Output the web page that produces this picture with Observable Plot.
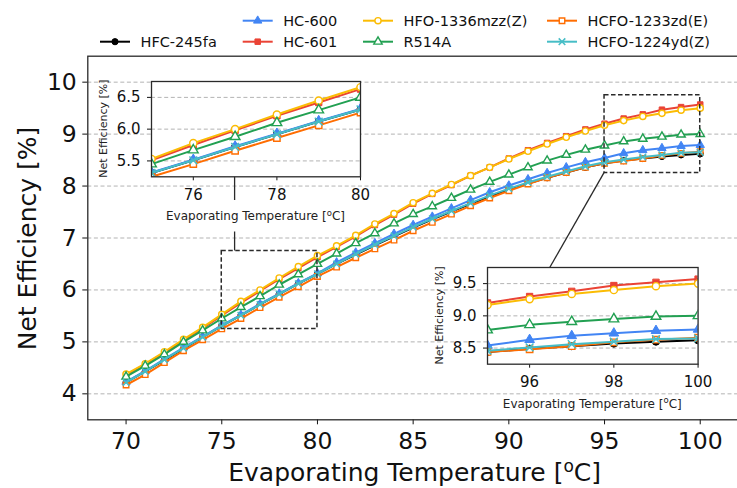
<!DOCTYPE html>
<html><head><meta charset="utf-8">
<script src="https://cdn.jsdelivr.net/npm/d3@7"></script>
<script src="https://cdn.jsdelivr.net/npm/@observablehq/plot@0.6"></script>
<style>
html,body{margin:0;padding:0;background:#fff;overflow:hidden}
#wrap{position:relative;width:737px;height:488px;overflow:hidden;background:#fff;font-family:"DejaVu Sans",sans-serif}
#wrap svg{position:absolute;display:block}
</style></head><body><div id="wrap"></div>
<script>
// ---------- data ----------
const temps = [70,71,72,73,74,75,76,77,78,79,80,81,82,83,84,85,86,87,88,89,90,91,92,93,94,95,96,97,98,99,100];
const hfc245fa = [4.22,4.43,4.65,4.87,5.09,5.31,5.51,5.72,5.92,6.12,6.31,6.50,6.68,6.86,7.03,7.20,7.36,7.51,7.66,7.80,7.93,8.05,8.16,8.26,8.36,8.44,8.49,8.53,8.57,8.60,8.62];
const hc600 = [4.23,4.44,4.67,4.89,5.10,5.32,5.52,5.73,5.93,6.13,6.32,6.53,6.72,6.90,7.08,7.25,7.41,7.57,7.73,7.88,8.01,8.13,8.25,8.36,8.46,8.54,8.63,8.69,8.73,8.77,8.79];
const hc601 = [4.36,4.57,4.79,5.03,5.26,5.51,5.75,5.98,6.21,6.42,6.63,6.83,7.03,7.25,7.45,7.66,7.85,8.02,8.20,8.36,8.53,8.69,8.83,8.96,9.09,9.20,9.30,9.38,9.47,9.52,9.57];
const hfo1336mzz = [4.38,4.58,4.81,5.05,5.28,5.53,5.78,6.00,6.23,6.45,6.66,6.85,7.05,7.27,7.47,7.68,7.86,8.03,8.20,8.36,8.52,8.67,8.81,8.94,9.06,9.17,9.26,9.34,9.40,9.46,9.50];
const r514a = [4.33,4.54,4.76,5.00,5.22,5.45,5.67,5.88,6.10,6.30,6.50,6.70,6.90,7.09,7.28,7.46,7.61,7.77,7.93,8.08,8.22,8.36,8.49,8.60,8.70,8.78,8.86,8.91,8.95,8.99,9.00];
const hcfo1233zd = [4.17,4.37,4.60,4.83,5.04,5.25,5.45,5.66,5.86,6.06,6.26,6.44,6.62,6.79,6.96,7.14,7.30,7.46,7.62,7.77,7.91,8.04,8.16,8.26,8.36,8.44,8.48,8.53,8.59,8.63,8.66];
const hcfo1224yd = [4.22,4.43,4.66,4.88,5.09,5.31,5.51,5.72,5.92,6.12,6.31,6.50,6.69,6.87,7.04,7.21,7.37,7.52,7.67,7.82,7.95,8.07,8.18,8.28,8.38,8.46,8.51,8.56,8.60,8.64,8.65];

const seriesNames = ["HFC-245fa","HC-600","HC-601","HFO-1336mzz(Z)","R514A","HCFO-1233zd(E)","HCFO-1224yd(Z)"];
const seriesValues = [hfc245fa, hc600, hc601, hfo1336mzz, r514a, hcfo1233zd, hcfo1224yd];
const seriesColors = ["#000000","#4285f4","#ea4335","#fbbc04","#22a052","#ff6d01","#46bdc6"];
const seriesSymbols = ["circle","triangle","square","circle","triangle","square","times"];
const seriesFilled = [true,true,true,false,false,false,true];

const mainXTicks = [70,75,80,85,90,95,100];
const mainYTicks = [4,5,6,7,8,9,10];
const mainXDomain = [68,102];
const mainYDomain = [3.5,10.5];

const inset1XDomain = [75,80], inset1YDomain = [5.25,6.75];
const inset1XTicks = [76,78,80], inset1YTicks = [5.5,6.0,6.5];
const inset2XDomain = [95,100], inset2YDomain = [8.25,9.75];
const inset2XTicks = [96,98,100], inset2YTicks = [8.5,9.0,9.5];

const xLabel = "Evaporating Temperature [";
const xLabelSup = "o";
const xLabelEnd = "C]";
const yLabel = "Net Efficiency [%]";

// ---------- tidy table ----------
const rows = [];
seriesNames.forEach((n, i) => temps.forEach((t, j) => rows.push({series: n, T: t, v: seriesValues[i][j]})));

const FONT = '"DejaVu Sans", sans-serif';
const wrap = document.getElementById("wrap");

function seriesMarks(sub, opts = {}) {
  const marks = [];
  seriesNames.forEach((n, i) => {
    const d = sub.filter(r => r.series === n);
    const clip = opts.clip ? {clip: true} : {};
    marks.push(Plot.line(d, {x: "T", y: "v", stroke: "series", strokeWidth: opts.lw || 2, ...clip}));
    const sym = seriesSymbols[i];
    const dotOpts = {x: "T", y: "v", symbol: sym, r: opts.r || 3.1, ...clip};
    if (sym === "times") Object.assign(dotOpts, {stroke: "series", fill: "none", strokeWidth: 1.5});
    else if (seriesFilled[i]) Object.assign(dotOpts, {fill: "series", stroke: "series", strokeWidth: 1});
    else Object.assign(dotOpts, {fill: "white", stroke: "series", strokeWidth: 1.4});
    marks.push(Plot.dot(d, dotOpts));
  });
  return marks;
}

function addLabel(sel, x, y, size, supSize, fill) {
  const t = sel.append("text").attr("x", x).attr("y", y)
    .attr("text-anchor", "middle").attr("font-size", size).attr("fill", fill).attr("font-family", FONT);
  const shift = size * 0.38;
  t.append("tspan").text(xLabel);
  t.append("tspan").attr("dy", -shift).attr("font-size", supSize).text(xLabelSup);
  t.append("tspan").attr("dy", shift).text(xLabelEnd);
  return t;
}

// ---------- main chart ----------
const M = {left: 87.3, right: 2, top: 55.7, bottom: 68.7, width: 740, height: 488};
const main = Plot.plot({
  width: M.width, height: M.height,
  marginLeft: M.left, marginRight: M.right, marginTop: M.top, marginBottom: M.bottom,
  style: {background: "white", fontFamily: FONT, fontSize: "23.5px", color: "#111", maxWidth: "none", overflow: "visible"},
  x: {domain: mainXDomain, ticks: mainXTicks, tickSize: 5, tickPadding: 8, label: null, tickFormat: d => String(d)},
  y: {domain: mainYDomain, ticks: mainYTicks, tickSize: 5, tickPadding: 6, label: null, tickFormat: d => String(d)},
  color: {domain: seriesNames, range: seriesColors},
  marks: [
    Plot.ruleY(mainYTicks, {stroke: "#b3b3b3", strokeWidth: 1, strokeDasharray: "4,2.6"}),
    ...seriesMarks(rows, {lw: 2, r: 3.1}),
    Plot.rect([{x1: inset1XDomain[0], x2: inset1XDomain[1], y1: inset1YDomain[0], y2: inset1YDomain[1]},
               {x1: inset2XDomain[0], x2: inset2XDomain[1], y1: inset2YDomain[0], y2: inset2YDomain[1]}],
      {x1: "x1", x2: "x2", y1: "y1", y2: "y2", fill: "none", stroke: "#2a2a2a", strokeWidth: 1.5, strokeDasharray: "4.5,2.5"}),
    Plot.frame({stroke: "#2a2a2a", strokeWidth: 1.3})
  ]
});
main.style.left = "0px"; main.style.top = "0px";
wrap.appendChild(main);

const mx = d3.scaleLinear(mainXDomain, [M.left, M.width - M.right]);
const my = d3.scaleLinear(mainYDomain, [M.height - M.bottom, M.top]);

const sm = d3.select(main);
// main axis labels
addLabel(sm, (M.left + 738) / 2 + 2, 481, 25, 17, "#111");
sm.append("text").attr("transform", `translate(35.5,${(M.top + M.height - M.bottom) / 2 + 1}) rotate(-90)`)
  .attr("text-anchor", "middle").attr("font-size", 25).attr("fill", "#111").attr("font-family", FONT).text(yLabel);

// ---------- insets ----------
const I = {ml: 60, mr: 12, mt: 6, mb: 56};
function makeInset(frame, xd, yd, xt, yt, patch) {
  const sub = rows.filter(r => r.T >= xd[0] && r.T <= xd[1]);
  const p = Plot.plot({
    width: I.ml + frame.w + I.mr, height: I.mt + frame.h + I.mb,
    marginLeft: I.ml, marginRight: I.mr, marginTop: I.mt, marginBottom: I.mb,
    style: {background: "transparent", fontFamily: FONT, fontSize: "15px", color: "#111", maxWidth: "none", overflow: "visible"},
    x: {domain: xd, ticks: xt, tickSize: 4, tickPadding: 8.5, label: null, tickFormat: d => String(d)},
    y: {domain: yd, ticks: yt, tickSize: 4, tickPadding: 7, label: null, tickFormat: d3.format(".1f")},
    color: {domain: seriesNames, range: seriesColors},
    marks: [
      Plot.frame({fill: "white", stroke: "none"}),
      Plot.ruleY(yt, {stroke: "#b3b3b3", strokeWidth: 1, strokeDasharray: "4,2.6"}),
      ...seriesMarks(sub, {lw: 2, r: 3.6, clip: true}),
      Plot.frame({stroke: "#2a2a2a", strokeWidth: 1.3})
    ]
  });
  p.style.left = (frame.x - I.ml) + "px";
  p.style.top = (frame.y - I.mt) + "px";
  const s = d3.select(p);
  const cx = I.ml + frame.w / 2, cy = I.mt + frame.h + 39.7;
  if (patch) {
    // white box behind the x label (hides the connector there)
    s.append("rect").attr("x", cx - 90).attr("y", cy - 16).attr("width", 180).attr("height", 31.5).attr("fill", "white");
  }
  addLabel(s, cx, cy + 4.3, 12, 8.5, "#222");
  s.append("text").attr("transform", `translate(${I.ml - 48.3},${I.mt + frame.h / 2}) rotate(-90)`)
    .attr("dy", "0.36em").attr("text-anchor", "middle").attr("font-size", 11).attr("fill", "#222")
    .attr("font-family", FONT).text(yLabel);
  return p;
}

const f1 = {x: 151, y: 80.7, w: 209, h: 95.3};
const f2 = {x: 486.7, y: 267.3, w: 210.6, h: 96.7};

// connectors (drawn in the main svg, under the insets)
const i1x = d3.scaleLinear(inset1XDomain, [f1.x, f1.x + f1.w]);
const i2x = d3.scaleLinear(inset2XDomain, [f2.x, f2.x + f2.w]);
sm.append("line").attr("x1", i1x(77)).attr("x2", i1x(77)).attr("y1", f1.y + f1.h).attr("y2", my(inset1YDomain[1]))
  .attr("stroke", "#2a2a2a").attr("stroke-width", 1.3);
sm.append("line").attr("x1", mx(inset2XDomain[0])).attr("y1", my(inset2YDomain[0])).attr("x2", i2x(96.5)).attr("y2", f2.y)
  .attr("stroke", "#2a2a2a").attr("stroke-width", 1.3);

wrap.appendChild(makeInset(f1, inset1XDomain, inset1YDomain, inset1XTicks, inset1YTicks, true));
wrap.appendChild(makeInset(f2, inset2XDomain, inset2YDomain, inset2XTicks, inset2YTicks, false));

// ---------- legend ----------
const legCols = [100, 242.7, 363, 547];
const legRows = [20.7, 41.7];
const legPlace = [[0,1],[1,0],[1,1],[2,0],[2,1],[3,0],[3,1]];
const symMap = {circle: d3.symbolCircle, triangle: d3.symbolTriangle, square: d3.symbolSquare, times: d3.symbolTimes};
const leg = d3.create("svg").attr("width", 737).attr("height", 54)
  .style("left", "0px").style("top", "0px").style("position", "absolute");
seriesNames.forEach((n, i) => {
  const [c, r] = legPlace[i];
  const x0 = legCols[c], y0 = legRows[r];
  const g = leg.append("g");
  g.append("line").attr("x1", x0).attr("x2", x0 + 30).attr("y1", y0).attr("y2", y0)
    .attr("stroke", seriesColors[i]).attr("stroke-width", 2);
  const sym = seriesSymbols[i];
  const rr = 3.1;
  const path = g.append("path").attr("transform", `translate(${x0 + 15},${y0})`)
    .attr("d", d3.symbol(symMap[sym], Math.PI * rr * rr)());
  if (sym === "times") path.attr("fill", "none").attr("stroke", seriesColors[i]).attr("stroke-width", 1.5);
  else if (seriesFilled[i]) path.attr("fill", seriesColors[i]).attr("stroke", seriesColors[i]);
  else path.attr("fill", "white").attr("stroke", seriesColors[i]).attr("stroke-width", 1.4);
  g.append("text").attr("x", x0 + 40.5).attr("y", y0).attr("dy", "0.36em")
    .attr("font-size", 14.5).attr("font-family", FONT).attr("fill", "#111").text(n);
});
wrap.appendChild(leg.node());
</script></body></html>
